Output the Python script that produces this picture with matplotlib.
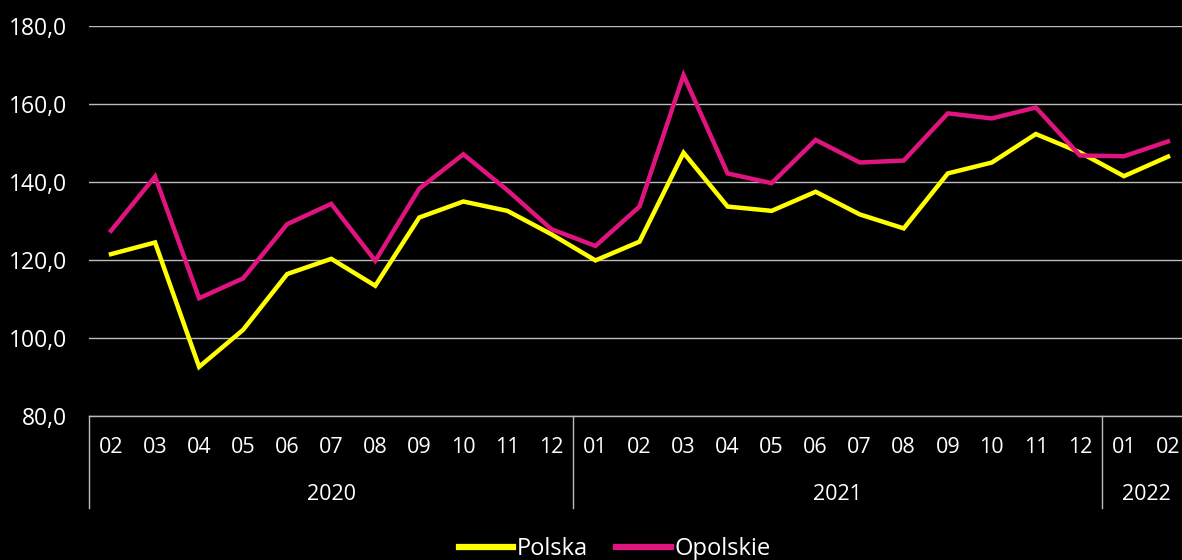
import matplotlib
matplotlib.use("Agg")
import matplotlib.pyplot as plt
import matplotlib.transforms as mtransforms

months = ["02", "03", "04", "05", "06", "07", "08", "09", "10", "11", "12",
          "01", "02", "03", "04", "05", "06", "07", "08", "09", "10", "11", "12",
          "01", "02"]
years = ["2020", "2021", "2022"]
year_counts = [11, 12, 2]

polska = [121.5, 124.5, 92.6, 102.1, 116.4, 120.3, 113.4, 130.9, 135.0, 132.6, 126.6,
          119.9, 124.7, 147.5, 133.7, 132.6, 137.5, 131.7, 128.1, 142.2, 145.0, 152.3, 147.6,
          141.5, 146.5]
opolskie = [127.5, 141.4, 110.2, 115.3, 129.2, 134.4, 119.8, 138.3, 147.1, 137.9, 127.9,
            123.6, 133.7, 167.4, 142.2, 139.7, 150.8, 145.0, 145.5, 157.6, 156.3, 159.1, 146.8,
            146.6, 150.4]
yticks = [80, 100, 120, 140, 160, 180]

plt.rcParams['font.family'] = ['Open Sans', 'DejaVu Sans']

fig = plt.figure(figsize=(11.82, 5.6), dpi=100, facecolor='black')
ax = fig.add_axes([89 / 1182, 1 - 416 / 560, (1190 - 89) / 1182, 390 / 560])
ax.set_facecolor('black')

x = list(range(len(months)))
ax.plot(x, polska, color='#FFFF00', lw=3.2, label='Polska', zorder=3, solid_joinstyle='miter')
ax.plot(x, opolskie, color='#E0147E', lw=3.2, label='Opolskie', zorder=3, solid_joinstyle='miter')

ax.set_ylim(80, 180)
ax.set_xlim(-0.5, len(months) - 0.5)
ax.set_yticks(yticks)
ax.set_yticklabels([f"{v:.1f}".replace('.', ',') for v in yticks], color='white', fontsize=16.5)
ax.yaxis.grid(True, color='#BBBBBB', lw=1)
ax.set_axisbelow(True)
ax.tick_params(axis='y', length=0, pad=16)
ax.set_xticks(x)
ax.set_xticklabels(months, color='white', fontsize=15.5)
ax.tick_params(axis='x', length=0, pad=15)
for s in ['top', 'right', 'left']:
    ax.spines[s].set_visible(False)
ax.spines['bottom'].set_color('#BBBBBB')
ax.spines['bottom'].set_linewidth(1)

trans = mtransforms.blended_transform_factory(ax.transData, ax.transAxes)
start = -0.5
bounds = [start]
for n in year_counts:
    bounds.append(bounds[-1] + n)
for b in bounds[:-1]:
    ax.plot([b, b], [0, -0.236], transform=trans, color='#BBBBBB', lw=1, clip_on=False)
for i, y in enumerate(years):
    c = (bounds[i] + bounds[i + 1]) / 2
    ax.text(c, -0.2, y, transform=trans, color='white', fontsize=15.5,
            ha='center', va='center')

leg = fig.legend(loc='lower center', bbox_to_anchor=(0.52, -0.04), ncol=2, frameon=False,
                 handlelength=2.3, columnspacing=1.2, handletextpad=0.15, fontsize=17)
for t in leg.get_texts():
    t.set_color('white')
for l in leg.get_lines():
    l.set_linewidth(4.5)

fig.savefig('out.png', dpi=100, facecolor='black')
